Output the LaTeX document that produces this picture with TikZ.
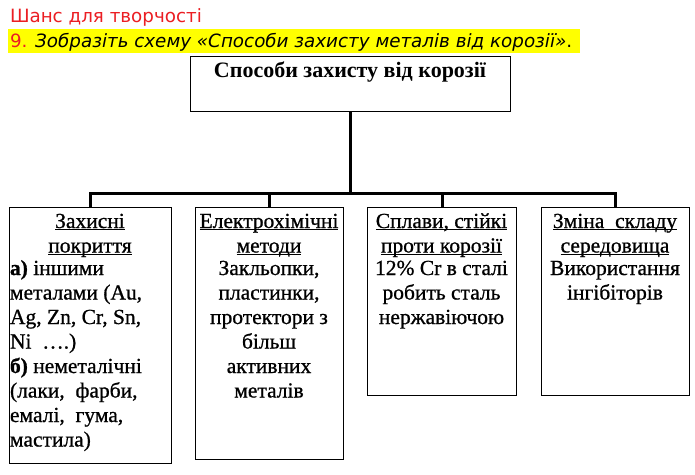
\documentclass[tikz,border=0pt]{standalone}
\usepackage{fontspec}
\setmainfont{Liberation Serif}
\newfontfamily\bodyf{Liberation Serif}[FakeBold=0.8]
\newfontfamily\headf{Liberation Serif}
\newfontfamily\sansf{DejaVu Sans}
\definecolor{hdred}{RGB}{235,30,35}
\definecolor{hlyel}{RGB}{255,255,0}
\newcommand\myul[1]{\leavevmode\setbox0\hbox{#1}\rlap{\rule[-2.4pt]{\wd0}{1.3pt}}\box0}
\newcommand\bfs{\bodyf\fontsize{21.5}{24.5}\selectfont}
\tikzset{
  boxst/.style={draw=black, line width=1.3pt, fill=none, inner sep=0pt, anchor=north west},
  conn/.style={draw=black, line width=3pt, line join=miter},
  txt/.style={anchor=base, inner sep=0pt, outer sep=0pt},
}
\begin{document}
\begin{tikzpicture}[x=1pt,y=-1pt]
\fill[white] (0,0) rectangle (695,474);
\useasboundingbox (0,0) rectangle (695,474);
% header lines
\node[txt, anchor=base west, text=hdred] (s1) at (10,22) {\sansf\fontsize{18.3}{20}\selectfont Шанс для творчості};
\fill[hlyel] (8,29) rectangle (580,53);
\node[txt, anchor=base west] (s2) at (10,47) {\sansf\fontsize{18.3}{20}\selectfont\textcolor{hdred}{9.} \textit{Зобразіть схему «Способи захисту металів від корозії»}.};
% boxes
\node[boxst, minimum width=320pt, minimum height=55pt] (T) at (190,56) {};
\node[boxst, minimum width=162pt, minimum height=256pt] (B1) at (9,207) {};
\node[boxst, minimum width=148pt, minimum height=252pt] (B2) at (195,207) {};
\node[boxst, minimum width=149pt, minimum height=188pt] (B3) at (367,207) {};
\node[boxst, minimum width=148pt, minimum height=188pt] (B4) at (541,207) {};
% connectors
\coordinate (J) at (350,193);
\draw[conn] (T.south) -- (T.south |- J);
\draw[conn] (B1.north) -- (B1.north |- J) -- (B4.north |- J) -- (B4.north);
\draw[conn] (B2.north) -- (B2.north |- J);
\draw[conn] (B3.north) -- (B3.north |- J);
% texts
\node[txt] (Tt) at (350,77) {\headf\bfseries\fontsize{22}{24}\selectfont Способи захисту від корозії};
\node[txt] (h1) at (90,228) {\parbox[t]{160pt}{\centering\bfs\myul{Захисні}\\\myul{покриття}}};
\node[txt, anchor=base west] (c1) at (10,275) {\parbox[t]{165pt}{\raggedright\bfs\textbf{а)} іншими\\металами (Au,\\Ag, Zn, Cr, Sn,\\Ni \ ….)\\\textbf{б)} неметалічні\\(лаки, \ фарби,\\емалі, \ гума,\\мастила)}};
\node[txt] (h2) at (269,228) {\parbox[t]{160pt}{\centering\bfs\myul{Електрохімічні}\\\myul{методи}}};
\node[txt] (c2) at (269,275) {\parbox[t]{160pt}{\centering\bfs Закльопки,\\пластинки,\\протектори з\\більш\\активних\\металів}};
\node[txt] (h3) at (441.5,228) {\parbox[t]{160pt}{\centering\bfs\myul{Сплави, стійкі}\\\myul{проти корозії}}};
\node[txt] (c3) at (441.5,275) {\parbox[t]{160pt}{\centering\bfs 12\% Cr в сталі\\робить сталь\\нержавіючою}};
\node[txt] (h4) at (615,228) {\parbox[t]{160pt}{\centering\bfs\myul{Зміна \ складу}\\\myul{середовища}}};
\node[txt] (c4) at (615,275) {\parbox[t]{160pt}{\centering\bfs Використання\\інгібіторів}};
\end{tikzpicture}
\end{document}
